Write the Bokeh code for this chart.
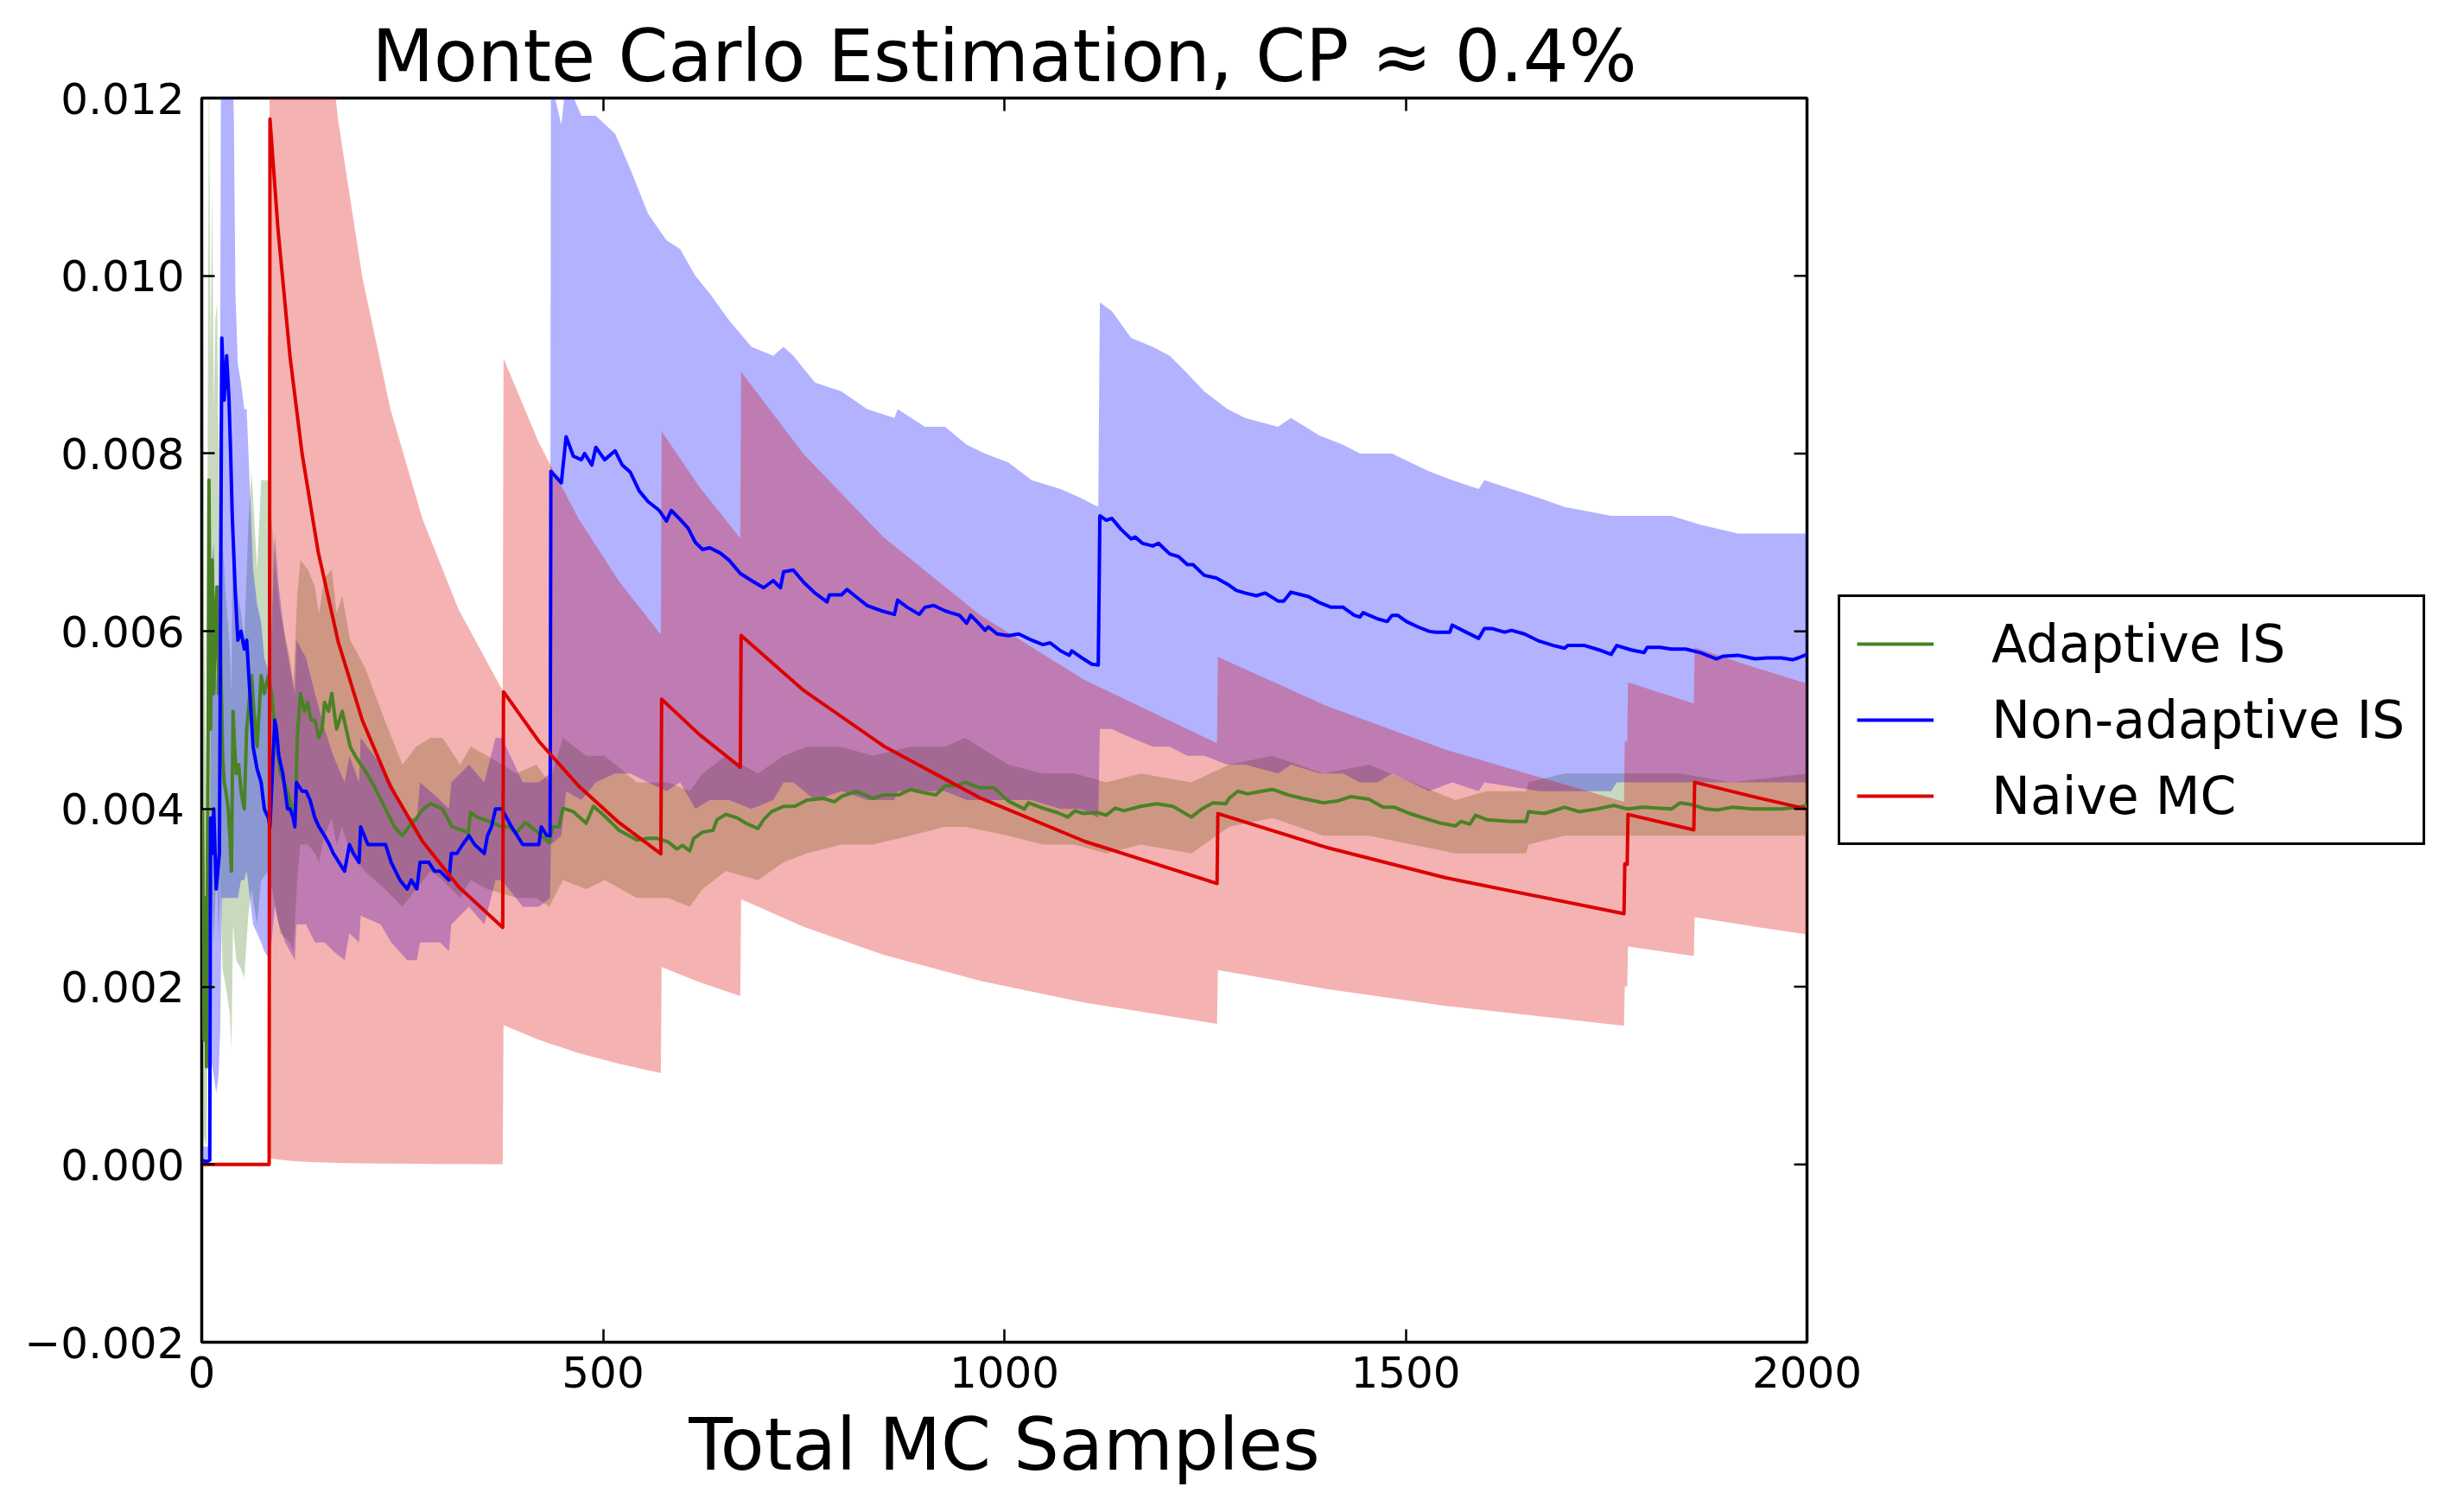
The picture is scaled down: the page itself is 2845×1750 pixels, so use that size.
import math
from bokeh.plotting import figure
from bokeh.models import (Range1d, FixedTicker, LinearAxis, CustomJSTickFormatter,
                          Legend, LegendItem, ColumnDataSource)
from bokeh.embed import file_html
from bokeh.resources import INLINE

# ---------------- data ----------------
x_ticks = [0, 500, 1000, 1500, 2000]
y_ticks = [-0.002, 0.0, 0.002, 0.004, 0.006, 0.008, 0.010, 0.012]

title_text = "Monte Carlo Estimation, CP \u2248 0.4%"
xlabel_text = "Total MC Samples"
series_names = ["Adaptive IS", "Non-adaptive IS", "Naive MC"]

# Adaptive IS estimate
green_x = [1, 3, 5, 6, 8, 9, 11, 13, 15, 17, 19, 21, 23, 26, 28, 30, 33, 35, 37, 39,
           41, 43, 46, 49, 53, 56, 58, 62, 65, 69, 74, 78, 83, 87, 92, 98, 103, 110, 114, 117,
           119, 123, 128, 132, 136, 141, 146, 150, 153, 158, 162, 168, 175, 185, 193, 203, 214, 228, 240, 250,
           258, 267, 276, 285, 300, 312, 322, 332, 335, 345, 356, 371, 383, 392, 403, 417, 433, 437, 445, 450,
           463, 479, 488, 502, 520, 542, 556, 567, 581, 592, 599, 608, 613, 624, 637, 642, 653, 667, 678, 693,
           700, 710, 725, 739, 754, 775, 788, 797, 815, 836, 851, 869, 883, 901, 915, 926, 940, 951, 969, 987,
           1005, 1025, 1030, 1048, 1066, 1079, 1088, 1098, 1116, 1127, 1138, 1149, 1170, 1190, 1210, 1233, 1246, 1260, 1276, 1280,
           1291, 1303, 1321, 1334, 1353, 1371, 1397, 1415, 1432, 1454, 1472, 1486, 1508, 1529, 1544, 1562, 1569, 1580, 1587, 1601,
           1630, 1650, 1653, 1673, 1698, 1716, 1738, 1759, 1777, 1795, 1831, 1842, 1856, 1874, 1889, 1907, 1932, 1968, 1989, 2000]
green_y = [0.0040, 0.0014, 0.0030, 0.0011, 0.0050, 0.0077, 0.0049, 0.0068, 0.0053, 0.0062, 0.0065, 0.0053, 0.0060, 0.0046, 0.0043, 0.0042, 0.0040, 0.0037, 0.0033, 0.0051,
           0.0047, 0.0044, 0.0045, 0.0042, 0.0040, 0.0049, 0.0051, 0.0055, 0.0051, 0.0047, 0.0055, 0.0053, 0.0055, 0.0053, 0.0048, 0.0044, 0.0043, 0.0041, 0.0039, 0.0040,
           0.0048, 0.0053, 0.0051, 0.0052, 0.0050, 0.0050, 0.0048, 0.0049, 0.0052, 0.0051, 0.0053, 0.0049, 0.0051, 0.0047, 0.00457, 0.00444, 0.00427, 0.00402, 0.0038, 0.0037,
           0.0038, 0.00389, 0.0040, 0.00406, 0.0040, 0.0038, 0.00377, 0.00373, 0.00396, 0.0039, 0.00387, 0.00381, 0.0038, 0.00373, 0.00385, 0.00375, 0.00362, 0.0038, 0.0038, 0.00401,
           0.00397, 0.00384, 0.00403, 0.00392, 0.00376, 0.00365, 0.00367, 0.00367, 0.00363, 0.00355, 0.00359, 0.00353, 0.00367, 0.00374, 0.00376, 0.00388, 0.00394, 0.0039, 0.00384, 0.00378,
           0.00388, 0.00397, 0.00403, 0.00403, 0.0041, 0.00412, 0.00408, 0.00414, 0.0042, 0.00412, 0.00416, 0.00416, 0.00422, 0.00418, 0.00416, 0.00426, 0.00426, 0.0043, 0.00424, 0.00424,
           0.00409, 0.0040, 0.00407, 0.00401, 0.00396, 0.00391, 0.00398, 0.00395, 0.00396, 0.00393, 0.00401, 0.00398, 0.00403, 0.00406, 0.00403, 0.00391, 0.0040, 0.00407, 0.00406, 0.00412,
           0.0042, 0.00417, 0.0042, 0.00422, 0.00416, 0.00412, 0.00407, 0.00409, 0.00414, 0.00411, 0.00402, 0.00402, 0.00394, 0.00388, 0.00384, 0.00381, 0.00386, 0.00383, 0.00393, 0.00388,
           0.00386, 0.00386, 0.00397, 0.00395, 0.00402, 0.00397, 0.0040, 0.00404, 0.0040, 0.00402, 0.0040, 0.00407, 0.00405, 0.0040, 0.00399, 0.00402, 0.0040, 0.0040, 0.00402, 0.00404]

# Adaptive IS uncertainty band
green_band_x = [1, 3, 6, 9, 11, 13, 15, 17, 19, 21, 23, 26, 30, 35, 37, 39, 43, 49, 53, 58,
                62, 69, 74, 83, 92, 98, 110, 114, 119, 123, 132, 141, 146, 153, 162, 168, 175, 185, 203, 228,
                250, 267, 285, 300, 322, 335, 356, 392, 417, 433, 450, 479, 502, 542, 581, 608, 624, 653, 693, 725,
                754, 797, 836, 883, 926, 951, 1005, 1048, 1088, 1127, 1170, 1233, 1280, 1334, 1397, 1454, 1508, 1562, 1601, 1650,
                1653, 1698, 1759, 1842, 1907, 2000]
green_band_lo = [0.0000, 0.0003, 0.0002, 0.0030, 0.0020, 0.0030, 0.0025, 0.0030, 0.0033, 0.0025, 0.0032, 0.0022, 0.0020, 0.0017, 0.0013, 0.0027, 0.0023, 0.0022, 0.0021, 0.0028,
                 0.0031, 0.0027, 0.0032, 0.0033, 0.0029, 0.0026, 0.0025, 0.0024, 0.0032, 0.0036, 0.0036, 0.0035, 0.0034, 0.0037, 0.0039, 0.0036, 0.0038, 0.0035, 0.0033, 0.0031,
                 0.0029, 0.0031, 0.0033, 0.0032, 0.0030, 0.0032, 0.0031, 0.0030, 0.0030, 0.0029, 0.0032, 0.0031, 0.0032, 0.0030, 0.0030, 0.0029, 0.0031, 0.0033, 0.0032, 0.0034,
                 0.0035, 0.0036, 0.0036, 0.0037, 0.0038, 0.0038, 0.0037, 0.0036, 0.0036, 0.0035, 0.0036, 0.0035, 0.0038, 0.0039, 0.0037, 0.0037, 0.0036, 0.0035, 0.0035, 0.0035,
                 0.0036, 0.0037, 0.0037, 0.0037, 0.0037, 0.0037]
green_band_hi = [0.0125, 0.0060, 0.0040, 0.0125, 0.0090, 0.0110, 0.0085, 0.0095, 0.0097, 0.0080, 0.0088, 0.0070, 0.0064, 0.0058, 0.0053, 0.0075, 0.0065, 0.0062, 0.0059, 0.0072,
                 0.0078, 0.0067, 0.0077, 0.0077, 0.0067, 0.0062, 0.0057, 0.0054, 0.0064, 0.0068, 0.0067, 0.0065, 0.0062, 0.0066, 0.0067, 0.0062, 0.0064, 0.0059, 0.0056, 0.0050,
                 0.0045, 0.0047, 0.0048, 0.0048, 0.0045, 0.0047, 0.0046, 0.0044, 0.0045, 0.0043, 0.0048, 0.0046, 0.0046, 0.0043, 0.0043, 0.0042, 0.0044, 0.0046, 0.0044, 0.0046,
                 0.0047, 0.0047, 0.0046, 0.0047, 0.0047, 0.0048, 0.0045, 0.0044, 0.0044, 0.0043, 0.0044, 0.0043, 0.0045, 0.0046, 0.0044, 0.0045, 0.0043, 0.0041, 0.0042, 0.0042,
                 0.0043, 0.0044, 0.0044, 0.0044, 0.0043, 0.0044]

# Non-adaptive IS estimate
blue_x = [1, 5, 10, 11, 13, 15, 18, 21, 22, 23, 25, 28, 31, 34, 36, 38, 42, 45, 49, 53,
          56, 60, 64, 69, 74, 78, 83, 85, 87, 91, 93, 96, 101, 104, 107, 110, 114, 116, 118, 125,
          130, 135, 141, 146, 153, 159, 164, 171, 178, 184, 189, 196, 198, 207, 217, 223, 229, 236, 247, 256,
          261, 268, 272, 283, 290, 297, 308, 311, 318, 325, 333, 340, 352, 356, 361, 366, 374, 386, 400, 411,
          420, 423, 430, 434, 435, 448, 454, 463, 473, 477, 486, 491, 502, 515, 524, 534, 545, 556, 570, 579,
          585, 596, 606, 615, 624, 633, 646, 657, 671, 685, 700, 712, 721, 725, 737, 750, 764, 779, 782, 797,
          804, 815, 829, 847, 863, 867, 879, 894, 901, 912, 926, 933, 944, 953, 958, 969, 976, 980, 991, 1005,
          1018, 1034, 1048, 1057, 1070, 1081, 1084, 1095, 1109, 1117, 1119, 1127, 1134, 1145, 1158, 1163, 1172, 1185, 1192, 1206,
          1217, 1228, 1235, 1249, 1264, 1278, 1289, 1300, 1314, 1325, 1341, 1348, 1357, 1379, 1393, 1407, 1422, 1436, 1443, 1447,
          1465, 1477, 1483, 1490, 1501, 1515, 1529, 1537, 1555, 1558, 1573, 1591, 1598, 1608, 1623, 1632, 1648, 1666, 1684, 1698,
          1702, 1723, 1741, 1756, 1763, 1781, 1797, 1801, 1817, 1831, 1849, 1867, 1887, 1896, 1914, 1935, 1950, 1968, 1982, 1989,
          2000]
blue_y = [0.00005, 0.00003, 0.00005, 0.0039, 0.0035, 0.0040, 0.0031, 0.0034, 0.0035, 0.0053, 0.0093, 0.0086, 0.0091, 0.0086, 0.0080, 0.0073, 0.0064, 0.0059, 0.0060, 0.0058,
          0.0059, 0.0053, 0.0047, 0.00445, 0.0043, 0.0040, 0.0039, 0.0038, 0.0042, 0.0050, 0.0049, 0.0046, 0.0044, 0.0042, 0.0040, 0.0040, 0.0039, 0.0038, 0.0043, 0.0042,
          0.0042, 0.0041, 0.0039, 0.0038, 0.0037, 0.0036, 0.0035, 0.0034, 0.0033, 0.0036, 0.0035, 0.0034, 0.0038, 0.0036, 0.0036, 0.0036, 0.0036, 0.0034, 0.0032, 0.0031,
          0.0032, 0.0031, 0.0034, 0.0034, 0.0033, 0.0033, 0.0032, 0.0035, 0.0035, 0.0036, 0.0037, 0.0036, 0.0035, 0.0037, 0.0038, 0.0040, 0.0040, 0.0038, 0.0036, 0.0036,
          0.0036, 0.0038, 0.0037, 0.0037, 0.0078, 0.00767, 0.00819, 0.00797, 0.00793, 0.0080, 0.00787, 0.00807, 0.00793, 0.00803, 0.00787, 0.00779, 0.00758, 0.00746, 0.00736, 0.00724,
          0.00736, 0.00726, 0.00716, 0.0070, 0.00692, 0.00694, 0.00688, 0.0068, 0.00665, 0.00657, 0.00649, 0.00657, 0.00649, 0.00667, 0.00669, 0.00655, 0.00643, 0.00633, 0.00641, 0.00641,
          0.00647, 0.00639, 0.00629, 0.00623, 0.00619, 0.00635, 0.00627, 0.00619, 0.00627, 0.00629, 0.00623, 0.00621, 0.00618, 0.00609, 0.00618, 0.00608, 0.00601, 0.00605, 0.00597, 0.00595,
          0.00597, 0.0059, 0.00585, 0.00587, 0.00578, 0.00573, 0.00578, 0.00571, 0.00563, 0.00562, 0.0073, 0.00725, 0.00727, 0.00715, 0.00704, 0.00706, 0.00699, 0.00696, 0.00699, 0.00687,
          0.00684, 0.00675, 0.00675, 0.00663, 0.0066, 0.00653, 0.00646, 0.00643, 0.0064, 0.00643, 0.00634, 0.00634, 0.00644, 0.00639, 0.00632, 0.00627, 0.00627, 0.00618, 0.00616, 0.00621,
          0.00614, 0.00611, 0.00618, 0.00618, 0.00611, 0.00605, 0.0060, 0.00599, 0.00599, 0.00607, 0.0060, 0.00592, 0.00603, 0.00603, 0.00599, 0.00601, 0.00597, 0.00589, 0.00584, 0.00581,
          0.00584, 0.00584, 0.00579, 0.00574, 0.00584, 0.00579, 0.00576, 0.00582, 0.00582, 0.0058, 0.0058, 0.00576, 0.00569, 0.00572, 0.00573, 0.00569, 0.0057, 0.0057, 0.00568, 0.0057,
          0.00574]

# Non-adaptive IS uncertainty band
blue_band_x = [1, 10, 11, 15, 18, 21, 23, 25, 31, 36, 40, 42, 45, 49, 53, 56, 60, 64, 69, 74,
               78, 85, 91, 96, 104, 110, 116, 118, 130, 141, 153, 164, 178, 184, 196, 198, 223, 236, 256, 268,
               272, 297, 308, 311, 333, 352, 366, 374, 400, 420, 434, 435, 448, 454, 473, 491, 515, 534, 556, 579,
               596, 615, 633, 657, 685, 712, 725, 737, 764, 797, 829, 863, 867, 901, 926, 953, 976, 1005, 1034, 1070,
               1095, 1117, 1119, 1134, 1158, 1185, 1206, 1228, 1249, 1278, 1300, 1341, 1357, 1393, 1422, 1443, 1465, 1483, 1529, 1558,
               1591, 1598, 1666, 1698, 1756, 1763, 1831, 1867, 1914, 1982, 2000]
blue_band_lo = [0.0, 0.0, 0.0012, 0.0010, 0.0008, 0.0010, 0.0015, 0.0030, 0.0030, 0.0030, 0.0030, 0.0030, 0.0030, 0.0032, 0.0032, 0.0033, 0.0030, 0.0027, 0.0026, 0.0025,
                0.0024, 0.0023, 0.0029, 0.0027, 0.0025, 0.0024, 0.0023, 0.0027, 0.0027, 0.0025, 0.0025, 0.0024, 0.0023, 0.0026, 0.0025, 0.0028, 0.0027, 0.0025, 0.0023, 0.0023,
                0.0025, 0.0025, 0.0024, 0.0027, 0.0029, 0.0027, 0.0032, 0.0032, 0.0029, 0.0029, 0.0030, 0.0036, 0.0037, 0.0042, 0.0041, 0.0043, 0.0044, 0.0044, 0.0043, 0.0042,
                0.0043, 0.0040, 0.0041, 0.0041, 0.0040, 0.0041, 0.0043, 0.0043, 0.0041, 0.0042, 0.0041, 0.0041, 0.0042, 0.0042, 0.0042, 0.0041, 0.0041, 0.0041, 0.0041, 0.0040,
                0.0040, 0.0039, 0.0049, 0.0049, 0.0048, 0.0047, 0.0047, 0.0046, 0.0046, 0.0045, 0.0045, 0.0044, 0.0045, 0.0044, 0.0044, 0.0043, 0.0043, 0.0044, 0.0042, 0.0043,
                0.0042, 0.0043, 0.0042, 0.0042, 0.0042, 0.0043, 0.0043, 0.0043, 0.0043, 0.0043, 0.0043]
blue_band_hi = [0.0002, 0.0002, 0.0066, 0.0070, 0.0054, 0.0058, 0.0091, 0.0156, 0.0152, 0.0130, 0.0118, 0.0098, 0.0090, 0.0088, 0.0085, 0.0085, 0.0076, 0.0067, 0.0063, 0.0061,
                0.0057, 0.0055, 0.0071, 0.0065, 0.0059, 0.0056, 0.0053, 0.0059, 0.0057, 0.0053, 0.0049, 0.0046, 0.0043, 0.0046, 0.0043, 0.0048, 0.0045, 0.0043, 0.0039, 0.0039,
                0.0043, 0.0041, 0.0040, 0.0043, 0.0045, 0.0043, 0.0048, 0.0048, 0.0043, 0.0043, 0.0044, 0.0122, 0.0117, 0.0122, 0.0118, 0.0118, 0.0116, 0.0112, 0.0107, 0.0104,
                0.0103, 0.0100, 0.0098, 0.0095, 0.0092, 0.0091, 0.0092, 0.0091, 0.0088, 0.0087, 0.0085, 0.0084, 0.0085, 0.0083, 0.0083, 0.0081, 0.0080, 0.0079, 0.0077, 0.0076,
                0.0075, 0.0074, 0.0097, 0.0096, 0.0093, 0.0092, 0.0091, 0.0089, 0.0087, 0.0085, 0.0084, 0.0083, 0.0084, 0.0082, 0.0081, 0.0080, 0.0080, 0.0080, 0.0078, 0.0077,
                0.0076, 0.0077, 0.0075, 0.0074, 0.0073, 0.0073, 0.0073, 0.0072, 0.0071, 0.0071, 0.0071]

# Naive MC estimate
red_x = [1, 84, 85, 95, 110, 125, 145, 170, 200, 235, 275, 320, 375, 376, 420, 470, 520, 572, 573, 620,
         671, 672, 750, 850, 970, 1100, 1265, 1266, 1400, 1550, 1772, 1773, 1776, 1777, 1859, 1860, 1930, 2000]
red_y = [0.0, 0.0, 0.011765, 0.010526, 0.0090909, 0.008, 0.0068966, 0.0058824, 0.005, 0.0042553,
         0.0036364, 0.003125, 0.0026667, 0.0053191, 0.0047619, 0.0042553, 0.0038462, 0.0034965, 0.0052356, 0.0048387,
         0.0044709, 0.0059524, 0.0053333, 0.0047059, 0.0041237, 0.0036364, 0.0031621, 0.0039494, 0.0035714, 0.0032258,
         0.0028217, 0.0033841, 0.0033784, 0.0039392, 0.0037655, 0.0043011, 0.0041451, 0.004]
# Naive MC uncertainty band
red_band_lo = [0.0, 0.0, 0.0000692, 0.0000554, 0.0000413, 0.000032, 0.0000238, 0.0000173, 0.0000125, 0.0000091,
               0.0000066, 0.0000049, 0.0000036, 0.0015680, 0.0014028, 0.0012528, 0.0011318, 0.0010284, 0.0022207, 0.0020518,
               0.0018954, 0.0029850, 0.0026738, 0.0023585, 0.0020661, 0.0018215, 0.0015835, 0.0021867, 0.0019771, 0.0017855,
               0.0015615, 0.0020049, 0.0020015, 0.0024533, 0.0023450, 0.0027837, 0.0026826, 0.0025886]
red_band_hi = [0.0, 0.0, 0.023460, 0.020997, 0.018140, 0.015968, 0.013769, 0.011747, 0.0099875, 0.0085016,
               0.0072661, 0.0062451, 0.0053298, 0.0090703, 0.0081210, 0.0072579, 0.0065606, 0.0059646, 0.0082505, 0.0076256,
               0.0070465, 0.0089197, 0.0079929, 0.0070533, 0.0061813, 0.0054512, 0.0047406, 0.0057122, 0.0051658, 0.0046661,
               0.0040818, 0.0047633, 0.0047553, 0.0054252, 0.0051860, 0.0058185, 0.0056075, 0.0054114]

GREEN = "#4a8226"
BLUE = "#0000ff"
RED = "#dd0000"
FONT = "DejaVu Sans"

# ---------------- figure ----------------
p = figure(width=2837, height=1734, frame_width=1858, frame_height=1440,
           output_backend="svg", toolbar_location=None,
           x_range=Range1d(0, 2000), y_range=Range1d(-0.002, 0.012),
           min_border_left=233, min_border_right=0, min_border_top=113, min_border_bottom=181,
           background_fill_color="white", border_fill_color="white")
p.xgrid.visible = False
p.ygrid.visible = False
p.outline_line_color = "black"
p.outline_line_width = 3.5

p.title.text = title_text
p.title.text_font = FONT
p.title.text_font_size = "83px"
p.title.text_font_style = "normal"
p.title.text_color = "black"
p.title.align = "center"
p.title.standoff = 0
p.title.offset = 0

src_gb = ColumnDataSource(dict(x=green_band_x, lo=green_band_lo, hi=green_band_hi))
src_bb = ColumnDataSource(dict(x=blue_band_x, lo=blue_band_lo, hi=blue_band_hi))
src_rb = ColumnDataSource(dict(x=red_x, lo=red_band_lo, hi=red_band_hi))
p.varea(x="x", y1="lo", y2="hi", source=src_gb, fill_color=GREEN, fill_alpha=0.3)
p.varea(x="x", y1="lo", y2="hi", source=src_bb, fill_color=BLUE, fill_alpha=0.3)
p.varea(x="x", y1="lo", y2="hi", source=src_rb, fill_color=RED, fill_alpha=0.3)

g_line = p.line(green_x, green_y, line_color=GREEN, line_width=4, line_join="round")
b_line = p.line(blue_x, blue_y, line_color=BLUE, line_width=4, line_join="round")
r_line = p.line(red_x, red_y, line_color=RED, line_width=4, line_join="round")

# inward tick marks on the right-hand frame edge, at the y tick values
p.ray(x=[x_ticks[-1]] * len(y_ticks), y=y_ticks, length=15, length_units="screen",
      angle=math.pi, line_color="black", line_width=2.5)


def style_axis(ax):
    ax.axis_line_color = None
    ax.major_tick_in = 15
    ax.major_tick_out = 0
    ax.minor_tick_line_color = None
    ax.major_tick_line_width = 2.5
    ax.major_tick_line_color = "black"
    ax.major_label_text_font = FONT
    ax.major_label_text_font_size = "50px"
    ax.major_label_text_color = "black"


xa = p.xaxis[0]
xa.ticker = FixedTicker(ticks=x_ticks)
style_axis(xa)
xa.major_label_standoff = 16
xa.axis_label = xlabel_text
xa.axis_label_text_font = FONT
xa.axis_label_text_font_size = "83px"
xa.axis_label_text_font_style = "normal"
xa.axis_label_text_color = "black"
xa.axis_label_standoff = 15

ya = p.yaxis[0]
ya.ticker = FixedTicker(ticks=y_ticks)
ya.formatter = CustomJSTickFormatter(
    code="return (tick < -1e-12 ? '\u2212' : '') + Math.abs(tick).toFixed(3);")
style_axis(ya)
ya.major_label_standoff = 20

top_ax = LinearAxis(ticker=FixedTicker(ticks=x_ticks),
                    formatter=CustomJSTickFormatter(code="return '';"))
style_axis(top_ax)
top_ax.major_label_text_font_size = "1px"
top_ax.major_label_standoff = 0
p.add_layout(top_ax, "above")

legend = Legend(items=[LegendItem(label=series_names[0], renderers=[g_line]),
                       LegendItem(label=series_names[1], renderers=[b_line]),
                       LegendItem(label=series_names[2], renderers=[r_line])],
                location="center_left", margin=36, padding=19, spacing=18,
                glyph_width=89, glyph_height=68, label_standoff=67, label_width=480,
                label_text_font=FONT, label_text_font_size="60px", label_text_color="black",
                border_line_color="black", border_line_width=3.5, border_line_alpha=1.0,
                background_fill_color="white", background_fill_alpha=1.0)
p.add_layout(legend, "right")

open("out.html", "w").write(file_html(p, INLINE))
